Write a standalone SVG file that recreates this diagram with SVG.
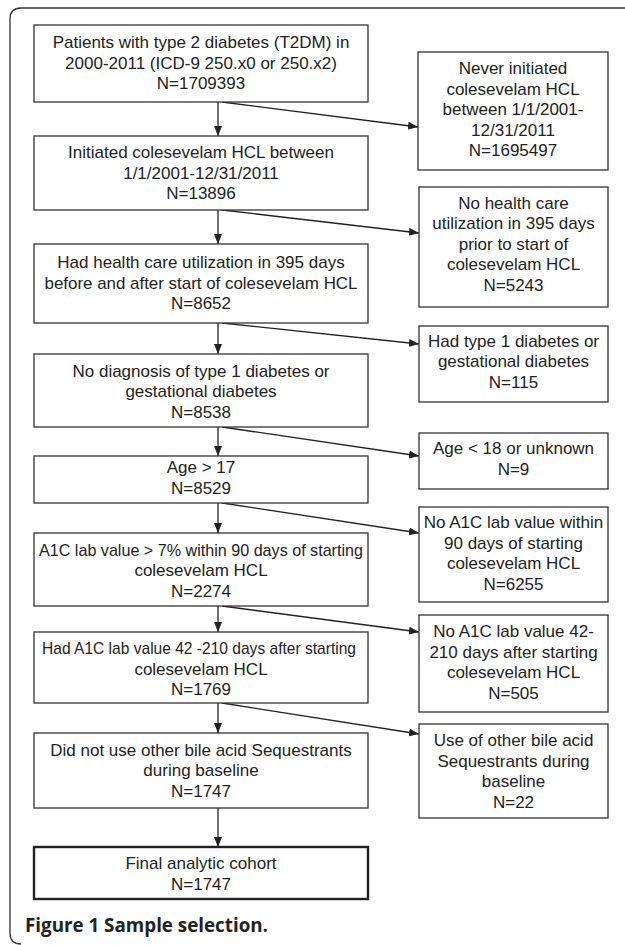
<svg xmlns="http://www.w3.org/2000/svg" width="625" height="945" viewBox="0 0 625 945">
<defs>
<marker id="ah" markerUnits="userSpaceOnUse" markerWidth="10" markerHeight="8" refX="10" refY="4" orient="auto">
<path d="M0,0 L10,4 L0,8 z" fill="#222"/>
</marker>
<style>
.box{fill:#fff;stroke:#333;stroke-width:1.3}
.final{fill:#fff;stroke:#222;stroke-width:2.4}
.t{font-family:"Liberation Sans",Arial,sans-serif;font-size:17px;fill:#222;text-anchor:middle}
.c{stroke:#222;stroke-width:1.3;fill:none;marker-end:url(#ah)}
.cap{font-family:"Open Sans","Liberation Sans",sans-serif;font-size:18.8px;font-weight:bold;fill:#222}
</style>
</defs>
<rect width="625" height="945" fill="#fff"/>
<path d="M625,8 H21 Q10,8 10,19 V933 Q10,944 21,944" fill="none" stroke="#333" stroke-width="1.3"/>

<g id="connectors">
<line class="c" x1="218" y1="102" x2="218" y2="136"/>
<line class="c" x1="218" y1="210" x2="218" y2="244"/>
<line class="c" x1="218" y1="323" x2="218" y2="354"/>
<line class="c" x1="218" y1="427" x2="218" y2="456"/>
<line class="c" x1="218" y1="503" x2="218" y2="533"/>
<line class="c" x1="218" y1="606" x2="218" y2="632"/>
<line class="c" x1="218" y1="703" x2="218" y2="733"/>
<line class="c" x1="218" y1="808" x2="218" y2="847"/>
<line class="c" x1="222" y1="102" x2="418" y2="127"/>
<line class="c" x1="222" y1="210" x2="419" y2="233"/>
<line class="c" x1="222" y1="323" x2="419" y2="344"/>
<line class="c" x1="222" y1="427" x2="419" y2="456"/>
<line class="c" x1="222" y1="503" x2="419" y2="533"/>
<line class="c" x1="222" y1="606" x2="419" y2="632"/>
<line class="c" x1="222" y1="703" x2="419" y2="734"/>
</g>

<g id="n1"><rect class="box" x="34" y="25" width="334" height="77"/>
<text class="t" x="201" y="48">Patients with type 2 diabetes (T2DM) in</text>
<text class="t" x="201" y="68.5">2000-2011 (ICD-9 250.x0 or 250.x2)</text>
<text class="t" x="201" y="89">N=1709393</text></g>

<g id="n2"><rect class="box" x="34" y="136" width="334" height="74"/>
<text class="t" x="201" y="158">Initiated colesevelam HCL between</text>
<text class="t" x="201" y="178.5">1/1/2001-12/31/2011</text>
<text class="t" x="201" y="199">N=13896</text></g>

<g id="n3"><rect class="box" x="34" y="244" width="334" height="79"/>
<text class="t" x="201" y="268">Had health care utilization in 395 days</text>
<text class="t" x="201" y="288.5" textLength="313" lengthAdjust="spacingAndGlyphs">before and after start of colesevelam HCL</text>
<text class="t" x="201" y="309">N=8652</text></g>

<g id="n4"><rect class="box" x="34" y="354" width="334" height="73"/>
<text class="t" x="201" y="376.5">No diagnosis of type 1 diabetes or</text>
<text class="t" x="201" y="397">gestational diabetes</text>
<text class="t" x="201" y="417.5">N=8538</text></g>

<g id="n5"><rect class="box" x="34" y="456" width="334" height="47"/>
<text class="t" x="201" y="473">Age &gt; 17</text>
<text class="t" x="201" y="493.5">N=8529</text></g>

<g id="n6"><rect class="box" x="34" y="533" width="334" height="73"/>
<text class="t" x="201" y="555.5" textLength="324" lengthAdjust="spacingAndGlyphs">A1C lab value &gt; 7% within 90 days of starting</text>
<text class="t" x="201" y="576">colesevelam HCL</text>
<text class="t" x="201" y="596.5">N=2274</text></g>

<g id="n7"><rect class="box" x="34" y="632" width="334" height="71"/>
<text class="t" x="199" y="654" textLength="314" lengthAdjust="spacingAndGlyphs">Had A1C lab value 42 -210 days after starting</text>
<text class="t" x="201" y="674.5">colesevelam HCL</text>
<text class="t" x="201" y="695">N=1769</text></g>

<g id="n8"><rect class="box" x="34" y="733" width="334" height="75"/>
<text class="t" x="201" y="755.5">Did not use other bile acid Sequestrants</text>
<text class="t" x="201" y="776">during baseline</text>
<text class="t" x="201" y="796.5">N=1747</text></g>

<g id="n9"><rect class="final" x="34" y="847" width="334" height="52"/>
<text class="t" x="201" y="869">Final analytic cohort</text>
<text class="t" x="201" y="889.5">N=1747</text></g>

<g id="s1"><rect class="box" x="418" y="52" width="190" height="118"/>
<text class="t" x="513" y="74">Never initiated</text>
<text class="t" x="513" y="94.5">colesevelam HCL</text>
<text class="t" x="513" y="115">between 1/1/2001-</text>
<text class="t" x="513" y="135.5">12/31/2011</text>
<text class="t" x="513" y="156">N=1695497</text></g>

<g id="s2"><rect class="box" x="419" y="187" width="189" height="120"/>
<text class="t" x="513.5" y="208.5">No health care</text>
<text class="t" x="513.5" y="229">utilization in 395 days</text>
<text class="t" x="513.5" y="249.5">prior to start of</text>
<text class="t" x="513.5" y="270">colesevelam HCL</text>
<text class="t" x="513.5" y="290.5">N=5243</text></g>

<g id="s3"><rect class="box" x="419" y="326" width="189" height="76"/>
<text class="t" x="513.5" y="346.5">Had type 1 diabetes or</text>
<text class="t" x="513.5" y="367">gestational diabetes</text>
<text class="t" x="513.5" y="387.5">N=115</text></g>

<g id="s4"><rect class="box" x="419" y="433" width="189" height="56"/>
<text class="t" x="513.5" y="454">Age &lt; 18 or unknown</text>
<text class="t" x="513.5" y="475">N=9</text></g>

<g id="s5"><rect class="box" x="419" y="507" width="189" height="95"/>
<text class="t" x="513.5" y="528">No A1C lab value within</text>
<text class="t" x="513.5" y="548.5">90 days of starting</text>
<text class="t" x="513.5" y="569">colesevelam HCL</text>
<text class="t" x="513.5" y="589.5">N=6255</text></g>

<g id="s6"><rect class="box" x="419" y="615" width="189" height="97"/>
<text class="t" x="513.5" y="637">No A1C lab value 42-</text>
<text class="t" x="513.5" y="657.5">210 days after starting</text>
<text class="t" x="513.5" y="678">colesevelam HCL</text>
<text class="t" x="513.5" y="698.5">N=505</text></g>

<g id="s7"><rect class="box" x="419" y="724" width="189" height="94"/>
<text class="t" x="513.5" y="746">Use of other bile acid</text>
<text class="t" x="513.5" y="766.5">Sequestrants during</text>
<text class="t" x="513.5" y="787">baseline</text>
<text class="t" x="513.5" y="807.5">N=22</text></g>

<text class="cap" x="25" y="932">Figure 1 Sample selection.</text>
</svg>
